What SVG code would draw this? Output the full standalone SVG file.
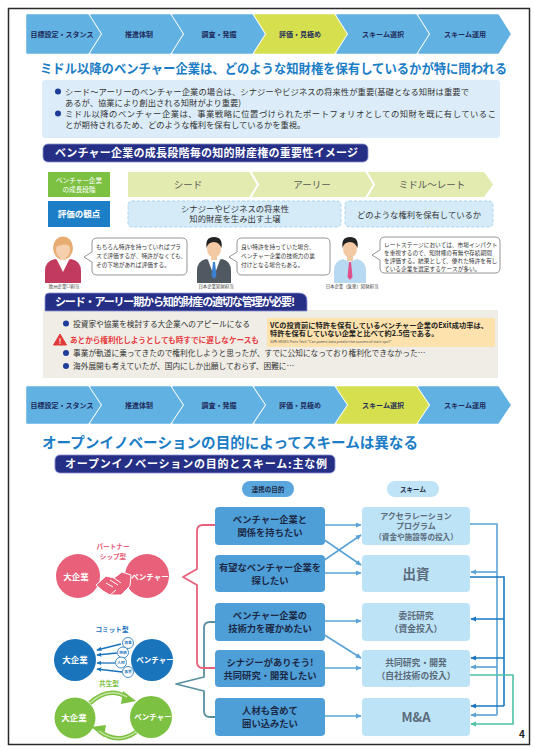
<svg xmlns="http://www.w3.org/2000/svg" width="534" height="747" viewBox="0 0 534 747">
<style>
  text { font-family: "Noto Sans CJK JP", "Noto Sans", sans-serif; }
  .chev { fill: #62b1e3; stroke: #62b1e3; stroke-width: 1.5; stroke-linejoin: round; }
  .chev-on { fill: #d6e04f; stroke: #d6e04f; stroke-width: 1.5; stroke-linejoin: round; }
  .chev-t { font-size: 7px; font-weight: 700; fill: #1d2c5a; text-anchor: middle; }
  .title { font-weight: 700; fill: #1b7dc6; }
  .hdr { fill: #262f86; stroke: #8a8fd0; stroke-width: 0.8; }
  .hdr-t { font-size: 11px; font-weight: 700; fill: #fff; }
  .body { font-size: 8.3px; fill: #333; }
  .dot { fill: #1e3c9a; }
  .bubble { fill: #fff; stroke: #8a8a8a; stroke-width: 0.9; }
  .bub-t { font-size: 5.7px; fill: #333; }
  .who { font-size: 4.4px; fill: #444; text-anchor: middle; }
  .goal { fill: #4e9ed8; }
  .goal-t { font-size: 9.3px; font-weight: 700; fill: #1c2944; text-anchor: middle; }
  .sch { fill: #bde3f7; }
  .sch-t { font-weight: 700; fill: #5b6b7b; text-anchor: middle; }
  .lk { fill: none; stroke: #5aa3d6; stroke-width: 1.6; }
  .dk { fill: none; stroke: #1a78c2; stroke-width: 1.6; }
  .tl { fill: none; stroke: #4fc1a6; stroke-width: 1.6; }
  .ct { font-weight: 700; text-anchor: middle; fill: #fff; }
</style>
<defs>
  <marker id="ah-lk" viewBox="0 0 8 8" refX="7" refY="4" markerWidth="6" markerHeight="6" markerUnits="userSpaceOnUse" orient="auto"><path d="M0,0.5 L8,4 L0,7.5 Z" fill="#5aa3d6"/></marker>
  <marker id="ah-dk" viewBox="0 0 8 8" refX="7" refY="4" markerWidth="6" markerHeight="6" markerUnits="userSpaceOnUse" orient="auto"><path d="M0,0.5 L8,4 L0,7.5 Z" fill="#1a78c2"/></marker>
  <marker id="ah-tl" viewBox="0 0 8 8" refX="7" refY="4" markerWidth="6" markerHeight="6" markerUnits="userSpaceOnUse" orient="auto"><path d="M0,0.5 L8,4 L0,7.5 Z" fill="#4fc1a6"/></marker>
  <marker id="ah-bl" viewBox="0 0 8 8" refX="7" refY="4" markerWidth="5" markerHeight="5" markerUnits="userSpaceOnUse" orient="auto"><path d="M0,0.5 L8,4 L0,7.5 Z" fill="#1a74bc"/></marker>
</defs>

<rect width="534" height="747" fill="#fff"/>
<!-- page frame -->
<rect x="8.5" y="8.5" width="521" height="736" fill="none" stroke="#2a2a2a" stroke-width="1.5"/>

<!-- process bar (top) -->
<g id="process-top">
  <path class="chev" d="M27,15 H88 L100,34 L88,53 H27 Z"/>
  <path class="chev" d="M91,15 H170 L182,34 L170,53 H91 L103,34 Z"/>
  <path class="chev" d="M173,15 H252 L264,34 L252,53 H173 L185,34 Z"/>
  <path class="chev-on" d="M255,15 H334 L346,34 L334,53 H255 L267,34 Z"/>
  <path class="chev" d="M337,15 H416 L428,34 L416,53 H337 L349,34 Z"/>
  <path class="chev" d="M419,15 H498 L510,34 L498,53 H419 L431,34 Z"/>
  <text class="chev-t" x="62" y="36.5">目標設定・スタンス</text>
  <text class="chev-t" x="139" y="36.5">推進体制</text>
  <text class="chev-t" x="219" y="36.5">調査・発掘</text>
  <text class="chev-t" x="300" y="36.5">評価・見極め</text>
  <text class="chev-t" x="383" y="36.5">スキーム選択</text>
  <text class="chev-t" x="465" y="36.5">スキーム運用</text>
</g>

<text class="title" x="40" y="73" font-size="13" textLength="467" lengthAdjust="spacingAndGlyphs">ミドル以降のベンチャー企業は、どのような知財権を保有しているかが特に問われる</text>

<!-- key points -->
<g id="key-points">
  <rect x="42" y="80" width="458" height="58" rx="3" fill="#dcedf9"/>
  <circle class="dot" cx="58" cy="91.5" r="3"/>
  <text class="body" x="65" y="94.5" textLength="404">シード～アーリーのベンチャー企業の場合は、シナジーやビジネスの将来性が重要(基礎となる知財は重要で</text>
  <text class="body" x="65" y="105.5">あるが、協業により創出される知財がより重要)</text>
  <circle class="dot" cx="58" cy="113.5" r="3"/>
  <text class="body" x="65" y="116.5" textLength="431">ミドル以降のベンチャー企業は、事業戦略に位置づけられたポートフォリオとしての知財を既に有しているこ</text>
  <text class="body" x="65" y="127.5">とが期待されるため、どのような権利を保有しているかを重視。</text>
</g>

<!-- growth stage chart -->
<g id="stage-chart">
  <rect class="hdr" x="43" y="144" width="325" height="18" rx="5"/>
  <text class="hdr-t" x="55" y="157.3" textLength="303">ベンチャー企業の成長段階毎の知的財産権の重要性イメージ</text>

  <rect x="48" y="172" width="62" height="25" fill="#7dc142"/>
  <text x="79" y="182.5" font-size="6.6" fill="#fff" text-anchor="middle">ベンチャー企業</text>
  <text x="79" y="191.5" font-size="6.6" fill="#fff" text-anchor="middle">の成長段階</text>
  <rect x="48" y="201" width="62" height="26" fill="#1b7ec6"/>
  <text x="79" y="217" font-size="8.5" font-weight="700" fill="#fff" text-anchor="middle">評価の観点</text>

  <path d="M128,172 H484 L493,184.5 L484,197 H128 Z" fill="#e3ebb0"/>
  <polyline points="250,171 258,184.5 250,198" fill="none" stroke="#fff" stroke-width="2"/>
  <polyline points="366,171 374,184.5 366,198" fill="none" stroke="#fff" stroke-width="2"/>
  <text x="188" y="188" font-size="9.5" fill="#555" text-anchor="middle">シード</text>
  <text x="312" y="188" font-size="9.5" fill="#555" text-anchor="middle">アーリー</text>
  <text x="432" y="188" font-size="9.5" fill="#555" text-anchor="middle">ミドル～レート</text>

  <rect x="128" y="201" width="213" height="26" rx="4" fill="#d5ebf8" stroke="#a8d4f0" stroke-dasharray="3 2"/>
  <rect x="345" y="201" width="148" height="26" rx="4" fill="#d5ebf8" stroke="#a8d4f0" stroke-dasharray="3 2"/>
  <text x="235" y="211.5" font-size="8.3" fill="#333" text-anchor="middle">シナジーやビジネスの将来性</text>
  <text x="235" y="222" font-size="8.3" fill="#333" text-anchor="middle">知的財産を生み出す土壌</text>
  <text x="419" y="217.5" font-size="8.3" fill="#333" text-anchor="middle">どのような権利を保有しているか</text>
</g>

<!-- voices -->
<g id="voice-eu">
  <ellipse cx="63" cy="248" rx="10" ry="11.5" fill="#e7ad72"/>
  <ellipse cx="63" cy="250" rx="7" ry="8.5" fill="#f6cfae"/>
  <path d="M55,247 Q56,238 63,238 Q71,238 72,247 Q66,242 55,247 Z" fill="#e7ad72"/>
  <rect x="60" y="256" width="6" height="5" fill="#f6cfae"/>
  <path d="M45,283 V271 Q45,261 55,259 L63,262 L71,259 Q81,261 81,271 V283 Z" fill="#c23b5e"/>
  <path d="M57,260 L63,272 L69,260 Z" fill="#fff"/>
  <text class="who" x="64" y="287.5">欧州企業CI担当</text>
  <path class="bubble" d="M97,238 H182 Q187,238 187,243 V270 Q187,275 182,275 H97 Q92,275 92,270 V262 L84,257 L92,252 V243 Q92,238 97,238 Z"/>
  <text class="bub-t" x="96" y="249">もちろん特許を持っていればプラ</text>
  <text class="bub-t" x="96" y="258">スで評価するが、特許がなくても、</text>
  <text class="bub-t" x="96" y="267">その下地があれば評価する。</text>
</g>
<g id="voice-jp">
  <ellipse cx="214" cy="249" rx="7" ry="8.5" fill="#f3c9a4"/>
  <path d="M206.5,248 Q205,237 214,237 Q223,237 221.5,248 Q219,242 214,242 Q208,242 206.5,248 Z" fill="#222"/>
  <rect x="211" y="256" width="6" height="5" fill="#f3c9a4"/>
  <path d="M197,283 V271 Q197,261 206,259 L214,262 L222,259 Q231,261 231,271 V283 Z" fill="#505862"/>
  <path d="M208,260 L214,276 L220,260 Z" fill="#fff"/>
  <path d="M213,262 H215 L216.5,276 L214,279 L211.5,276 Z" fill="#3b7fd0"/>
  <text class="who" x="216" y="287.5">日本企業知財担当</text>
  <path class="bubble" d="M242,238 H325 Q330,238 330,243 V270 Q330,275 325,275 H242 Q237,275 237,270 V262 L229,257 L237,252 V243 Q237,238 242,238 Z"/>
  <text class="bub-t" x="241" y="249">良い特許を持っていた場合、</text>
  <text class="bub-t" x="241" y="258">ベンチャー企業の技術力の裏</text>
  <text class="bub-t" x="241" y="267">付けとなる場合もある。</text>
</g>
<g id="voice-pharma">
  <ellipse cx="350" cy="249" rx="7" ry="8.5" fill="#f3c9a4"/>
  <path d="M342.5,248 Q341,237 350,237 Q359,237 357.5,248 Q355,242 350,242 Q344,242 342.5,248 Z" fill="#222"/>
  <rect x="347" y="256" width="6" height="5" fill="#f3c9a4"/>
  <path d="M334,283 V271 Q334,261 343,259 L350,262 L357,259 Q366,261 366,271 V283 Z" fill="#b7daf2"/>
  <path d="M349,262 H351 L352.5,277 L350,280 L347.5,277 Z" fill="#e0508a"/>
  <text class="who" x="352" y="287.5">日本企業（医薬）知財担当</text>
  <path class="bubble" d="M385,237 H495 Q500,237 500,242 V268 Q500,273 495,273 H385 Q380,273 380,268 V260 L372,255 L380,250 V242 Q380,237 385,237 Z"/>
  <text class="bub-t" x="384" y="246.5">レートステージにおいては、市場インパクト</text>
  <text class="bub-t" x="384" y="254.5">を重視するので、知財権の有無や存続期間</text>
  <text class="bub-t" x="384" y="262.5">を評価する。結果として、優れた特許を有し</text>
  <text class="bub-t" x="384" y="270.5">ている企業を選定するケースが多い。</text>
</g>

<!-- early-stage IP management -->
<g id="early-ip">
  <rect x="43" y="310" width="455" height="68" fill="#efede6"/>
  <path class="hdr" d="M45,311 V297 Q45,293 49,293 H299 Q307,293 307,301 V311 Z"/>
  <text class="hdr-t" x="55" y="306" font-size="10" textLength="240">シード・アーリー期から知的財産の適切な管理が必要!</text>
  <circle class="dot" cx="66" cy="323.5" r="3"/>
  <text x="73" y="326.5" font-size="7.7" fill="#333">投資家や協業を検討する大企業へのアピールになる</text>
  <polygon points="60,334 66.5,345 53.5,345" fill="#e23a3a" stroke="#e23a3a" stroke-linejoin="round"/>
  <text x="60" y="344" font-size="7" font-weight="700" fill="#fff" text-anchor="middle">!</text>
  <text x="70" y="343" font-size="7.6" font-weight="700" fill="#e8383d">あとから権利化しようとしても時すでに遅しなケースも</text>
  <circle class="dot" cx="66" cy="353" r="3"/>
  <text x="73" y="356" font-size="7.7" fill="#333">事業が軌道に乗ってきたので権利化しようと思ったが、すでに公知になっており権利化できなかった…</text>
  <circle class="dot" cx="66" cy="366" r="3"/>
  <text x="73" y="369" font-size="7.7" fill="#333">海外展開も考えていたが、国内にしか出願しておらず、困難に…</text>
  <rect x="267" y="318" width="228" height="29" fill="#fde2ae"/>
  <text x="270" y="327.5" font-size="7.2" font-weight="700" fill="#222" textLength="218">VCの投資前に特許を保有しているベンチャー企業のExit成功率は、</text>
  <text x="270" y="336" font-size="7.2" font-weight="700" fill="#222">特許を保有していない企業と比べて約2.5倍である。</text>
  <text x="270" y="343" font-size="3.6" fill="#555">出所:MINES Paris Tech "Can patent data predict the success of start-ups?"</text>
</g>

<!-- process bar (lower) -->
<g id="process-bottom">
  <path class="chev" d="M27,387 H88 L100,405 L88,423 H27 Z"/>
  <path class="chev" d="M91,387 H170 L182,405 L170,423 H91 L103,405 Z"/>
  <path class="chev" d="M173,387 H252 L264,405 L252,423 H173 L185,405 Z"/>
  <path class="chev" d="M255,387 H334 L346,405 L334,423 H255 L267,405 Z"/>
  <path class="chev-on" d="M337,387 H416 L428,405 L416,423 H337 L349,405 Z"/>
  <path class="chev" d="M419,387 H498 L510,405 L498,423 H419 L431,405 Z"/>
  <text class="chev-t" x="62" y="407.5">目標設定・スタンス</text>
  <text class="chev-t" x="139" y="407.5">推進体制</text>
  <text class="chev-t" x="219" y="407.5">調査・発掘</text>
  <text class="chev-t" x="300" y="407.5">評価・見極め</text>
  <text class="chev-t" x="383" y="407.5">スキーム選択</text>
  <text class="chev-t" x="465" y="407.5">スキーム運用</text>
</g>

<text class="title" x="42" y="447.5" font-size="14.5" textLength="376" lengthAdjust="spacingAndGlyphs">オープンイノベーションの目的によってスキームは異なる</text>
<rect class="hdr" x="55" y="455" width="280" height="18" rx="5"/>
<text class="hdr-t" x="65" y="468.2" font-size="11.3" textLength="262">オープンイノベーションの目的とスキーム:主な例</text>

<!-- column headings -->
<rect x="242" y="481" width="52" height="16" rx="8" fill="#5aa7dd"/>
<text x="268" y="491.6" font-size="6.5" font-weight="700" fill="#1d2b45" text-anchor="middle">連携の目的</text>
<rect x="387" y="481" width="52" height="16" rx="8" fill="#bfe3f7"/>
<text x="413" y="491.6" font-size="6.5" font-weight="700" fill="#1d2b45" text-anchor="middle">スキーム</text>

<!-- partnership type -->
<g id="type-partnership">
  <text x="113" y="549" font-size="6.6" font-weight="700" fill="#e8607a" text-anchor="middle">パートナー</text>
  <text x="113" y="558.5" font-size="6.6" font-weight="700" fill="#e8607a" text-anchor="middle">シップ型</text>
  <circle cx="78" cy="576" r="22" fill="#e8607a"/>
  <circle cx="147" cy="576" r="22" fill="#e8607a"/>
  <path d="M96,585 L106,576 L114,578 L122,572 L131,575 L130,586 L121,595 L110,595 L103,591 Z" fill="#e8607a" stroke="#fff" stroke-width="1"/>
  <path d="M106,583 L113,587 M110,580 L118,585 M114,578 L121,583 M110,595 L116,590" fill="none" stroke="#fff" stroke-width="1"/>
  <text class="ct" x="76" y="579.5" font-size="8.5">大企業</text>
  <text class="ct" x="150" y="579.5" font-size="7.5">ベンチャー</text>
</g>

<!-- commit type -->
<g id="type-commit">
  <text x="112" y="632" font-size="6.6" font-weight="700" fill="#1a74bc" text-anchor="middle">コミット型</text>
  <circle cx="75" cy="660" r="21" fill="#1a74bc"/>
  <circle cx="152" cy="660" r="21" fill="#1a74bc"/>
  <line x1="121" y1="644" x2="97" y2="650" stroke="#1a74bc" stroke-width="1.3" marker-end="url(#ah-bl)"/>
  <line x1="117" y1="653" x2="97" y2="655" stroke="#1a74bc" stroke-width="1.3" marker-end="url(#ah-bl)"/>
  <line x1="115" y1="663" x2="97" y2="663" stroke="#1a74bc" stroke-width="1.3" marker-end="url(#ah-bl)"/>
  <line x1="122" y1="672" x2="97" y2="669" stroke="#1a74bc" stroke-width="1.3" marker-end="url(#ah-bl)"/>
  <g fill="#fff" stroke="#1a74bc" stroke-width="0.8">
    <circle cx="128" cy="643" r="5.5"/>
    <circle cx="123" cy="652.5" r="5.5"/>
    <circle cx="121" cy="662.5" r="5.5"/>
    <circle cx="128" cy="672" r="5.5"/>
  </g>
  <g font-size="3.8" font-weight="700" fill="#1a74bc" text-anchor="middle">
    <text x="128" y="644.4">資金</text>
    <text x="123" y="653.9">技術</text>
    <text x="121" y="663.9">人材</text>
    <text x="128" y="673.4">事業</text>
  </g>
  <text class="ct" x="75" y="663" font-size="8.5">大企業</text>
  <text class="ct" x="155" y="663" font-size="7.5">ベンチャー</text>
</g>

<!-- symbiotic type -->
<g id="type-symbiosis">
  <text x="109" y="686" font-size="6.6" font-weight="700" fill="#7dc142" text-anchor="middle">共生型</text>
  <circle cx="75" cy="718" r="20.5" fill="#7dc142"/>
  <circle cx="151" cy="717" r="21" fill="#7dc142"/>
  <path d="M90,703 Q108,686 127,697" fill="none" stroke="#7dc142" stroke-width="4.5"/>
  <polygon points="123,691 136,701 121,704" fill="#7dc142"/>
  <path d="M136,732 Q118,745 99,731" fill="none" stroke="#7dc142" stroke-width="4.5"/>
  <polygon points="104,737 91,727 106,725" fill="#7dc142"/>
  <path d="M90,703 Q108,686 127,697" fill="none" stroke="#c8e6a8" stroke-width="1.5"/>
  <path d="M136,732 Q118,745 99,731" fill="none" stroke="#c8e6a8" stroke-width="1.5"/>
  <text class="ct" x="74" y="721" font-size="8.5">大企業</text>
  <text class="ct" x="153" y="720" font-size="7.5">ベンチャー</text>
</g>

<!-- purposes -->
<g id="goal-relation">
  <rect class="goal" x="215" y="507" width="110" height="38" rx="4"/>
  <text class="goal-t" x="270" y="523">ベンチャー企業と</text>
  <text class="goal-t" x="270" y="536">関係を持ちたい</text>
</g>
<g id="goal-search">
  <rect class="goal" x="215" y="555" width="110" height="37" rx="4"/>
  <text class="goal-t" x="270" y="570.5">有望なベンチャー企業を</text>
  <text class="goal-t" x="270" y="583.5">探したい</text>
</g>
<g id="goal-verify">
  <rect class="goal" x="215" y="603" width="110" height="38" rx="4"/>
  <text class="goal-t" x="270" y="619">ベンチャー企業の</text>
  <text class="goal-t" x="270" y="632">技術力を確かめたい</text>
</g>
<g id="goal-synergy">
  <rect class="goal" x="215" y="650" width="110" height="37" rx="4"/>
  <text class="goal-t" x="270" y="665.5">シナジーがありそう!</text>
  <text class="goal-t" x="270" y="678.5">共同研究・開発したい</text>
</g>
<g id="goal-enclose">
  <rect class="goal" x="215" y="698" width="110" height="38" rx="4"/>
  <text class="goal-t" x="270" y="714">人材も含めて</text>
  <text class="goal-t" x="270" y="727">囲い込みたい</text>
</g>

<!-- schemes -->
<g id="scheme-accel">
  <rect class="sch" x="362" y="507" width="108" height="38" rx="4"/>
  <text class="sch-t" x="416" y="518.5" font-size="8">アクセラレーション</text>
  <text class="sch-t" x="416" y="529" font-size="8">プログラム</text>
  <text class="sch-t" x="416" y="539.5" font-size="7.6">（資金や施設等の投入）</text>
</g>
<g id="scheme-invest">
  <rect class="sch" x="362" y="555" width="108" height="37" rx="4"/>
  <text class="sch-t" x="416" y="578.5" font-size="13.5">出資</text>
</g>
<g id="scheme-contract">
  <rect class="sch" x="362" y="603" width="108" height="38" rx="4"/>
  <text class="sch-t" x="416" y="619" font-size="8.8">委託研究</text>
  <text class="sch-t" x="416" y="632" font-size="8.8">（資金投入）</text>
</g>
<g id="scheme-joint">
  <rect class="sch" x="362" y="650" width="108" height="37" rx="4"/>
  <text class="sch-t" x="416" y="665.5" font-size="8.8">共同研究・開発</text>
  <text class="sch-t" x="416" y="678.5" font-size="8.8">（自社技術の投入）</text>
</g>
<g id="scheme-ma">
  <rect class="sch" x="362" y="698" width="108" height="38" rx="4"/>
  <text class="sch-t" x="416" y="721.5" font-size="13">M&amp;A</text>
</g>

<!-- connectors -->
<g id="connectors">
  <!-- type brackets -->
  <path d="M215,622 H210 Q204,622 204,628 V677 L176,684 L204,691 V711 Q204,717 210,717 H215" fill="none" stroke="#5a8fa0" stroke-width="1.8" stroke-linejoin="round"/>
  <path d="M215,525 H203 Q197,525 197,531 V569 L183,577 L197,585 V662 Q197,668 203,668 H215" fill="none" stroke="#e8607a" stroke-width="1.8" stroke-linejoin="round"/>

  <!-- purpose to scheme -->
  <line class="lk" x1="325" y1="525" x2="361" y2="525" marker-end="url(#ah-lk)"/>
  <line class="lk" x1="323" y1="539" x2="361" y2="565" marker-end="url(#ah-lk)"/>
  <line class="lk" x1="323" y1="561" x2="361" y2="535" marker-end="url(#ah-lk)"/>
  <line class="lk" x1="325" y1="573" x2="361" y2="573" marker-end="url(#ah-lk)"/>
  <line class="lk" x1="325" y1="621" x2="361" y2="621" marker-end="url(#ah-lk)"/>
  <line class="lk" x1="323" y1="634" x2="361" y2="658" marker-end="url(#ah-lk)"/>
  <line class="lk" x1="325" y1="668" x2="361" y2="668" marker-end="url(#ah-lk)"/>
  <line class="lk" x1="325" y1="716" x2="361" y2="716" marker-end="url(#ah-lk)"/>

  <!-- scheme to scheme -->
  <path class="lk" d="M470,524 H497 V715"/>
  <line class="lk" x1="497" y1="572" x2="471" y2="572" marker-end="url(#ah-lk)"/>
  <line class="lk" x1="497" y1="667" x2="471" y2="667" marker-end="url(#ah-lk)"/>
  <line class="lk" x1="497" y1="715" x2="471" y2="715" marker-end="url(#ah-lk)"/>

  <path class="dk" d="M470,577 H504 V706"/>
  <line class="dk" x1="504" y1="619" x2="471" y2="619" marker-end="url(#ah-dk)"/>
  <line class="dk" x1="504" y1="658" x2="471" y2="658" marker-end="url(#ah-dk)"/>
  <line class="dk" x1="504" y1="706" x2="471" y2="706" marker-end="url(#ah-dk)"/>

  <path class="tl" d="M470,675 H513 V724 H471" marker-end="url(#ah-tl)"/>
</g>

<text x="522" y="738" font-size="10" font-weight="700" fill="#222" text-anchor="middle">4</text>
</svg>
